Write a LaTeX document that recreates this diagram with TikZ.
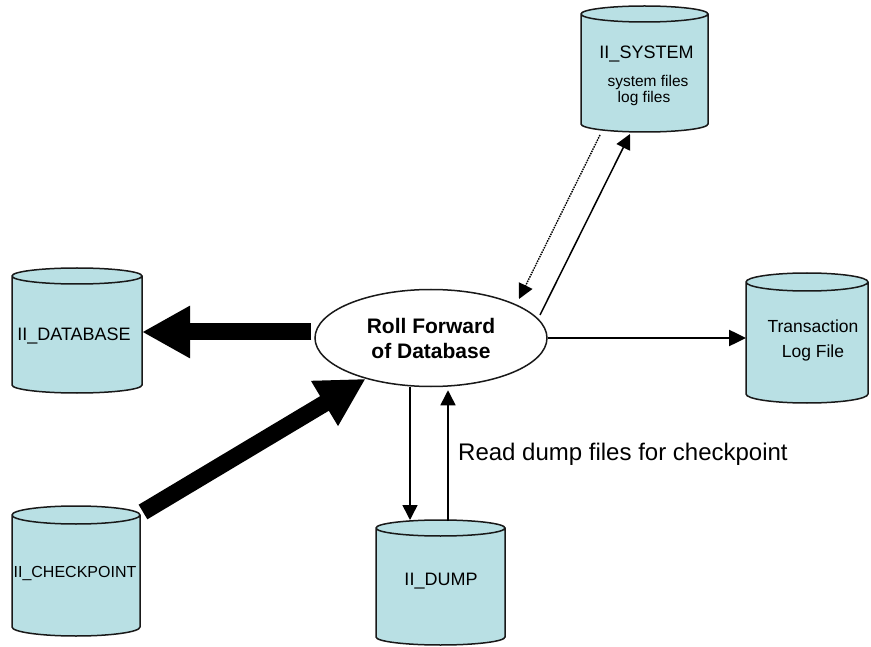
\documentclass[tikz,border=0pt]{standalone}
\usepackage{fontspec}
\setmainfont{Liberation Sans}
\usetikzlibrary{arrows.meta,shapes.geometric,calc}
\definecolor{cylfill}{RGB}{185,224,228}
\definecolor{inkline}{RGB}{25,25,25}
\tikzset{
  cylstyle/.style={draw=inkline, fill=cylfill, line width=1.5pt},
  body/.style={rectangle, inner sep=0pt, outer sep=0pt},
  lab/.style={inner sep=0pt, outer sep=0pt, anchor=base},
  bigarrow/.style={line width=17pt, -{Triangle[length=48pt,width=49pt]}},
  thinarrow/.style={line width=1.5pt, -{Triangle[length=15pt,width=15pt]}},
  transarrow/.style={line width=2.5pt, -{Triangle[length=17pt,width=16pt]}},
  dotarrow/.style={line width=1.4pt, dash pattern=on 1.5pt off 1pt, -{Triangle[length=15pt,width=15pt]}},
  rollnode/.style={ellipse, draw=inkline, line width=1.5pt, fill=white, inner sep=0pt,
    minimum width=232pt, minimum height=97pt, align=center,
    font=\fontsize{21}{25}\selectfont\bfseries}
}
\newcommand\drawcyl[2]{%
  \draw[cylstyle] let \p1=(#1.north west), \p2=(#1.south east), \n1={(\x2-\x1)/2} in
    (\x1,\y1) -- (\x1,\y2) arc[start angle=180,end angle=360,x radius=\n1,y radius=#2]
    -- (\x2,\y1) arc[start angle=0,end angle=180,x radius=\n1,y radius=#2] -- cycle
    (\x1,\y1) arc[start angle=180,end angle=360,x radius=\n1,y radius=#2];
}
\begin{document}
\begin{tikzpicture}[x=1pt,y=-1pt]
\useasboundingbox (0,0) rectangle (871,647);
\fill[white] (0,0) rectangle (871,647);

% cylinder bodies (between the centres of the end ellipses)
\node[body, minimum width=127pt, minimum height=110pt] (sys) at (644.5,69) {};
\node[body, minimum width=122pt, minimum height=112pt] (trans) at (807,338) {};
\node[body, minimum width=130pt, minimum height=109pt] (db) at (77,330.5) {};
\node[body, minimum width=128pt, minimum height=112pt] (cp) at (76,571) {};
\node[body, minimum width=129pt, minimum height=109pt] (dump) at (440.5,582.5) {};

\drawcyl{sys}{8pt}
\drawcyl{trans}{9pt}
\drawcyl{db}{8pt}
\drawcyl{cp}{9pt}
\drawcyl{dump}{8pt}

% cylinder texts
\node[lab, font=\fontsize{18}{20}\selectfont] (sysA) at (646.5,58.5) {II\_SYSTEM};
\node[lab, font=\fontsize{15.5}{17}\selectfont] (sysB) at (648,87) {system files};
\node[lab, font=\fontsize{15.5}{17}\selectfont] (sysC) at (644,103) {log files};
\node[lab, font=\fontsize{17.5}{20}\selectfont] (transA) at (813,333) {Transaction};
\node[lab, font=\fontsize{17.5}{20}\selectfont] (transB) at (813,358) {Log File};
\node[lab, font=\fontsize{18}{20}\selectfont] (dbT) at (74,341) {II\_DATABASE};
\node[lab, font=\fontsize{16}{18}\selectfont] (cpT) at (75,577) {II\_CHECKPOINT};
\node[lab, font=\fontsize{18}{20}\selectfont] (dumpT) at (441,585) {II\_DUMP};

% central process
\node[rollnode] (roll) at (431,338) {Roll Forward\\of Database};

% connectors
\coordinate (s1) at ([xshift=-3pt,yshift=6pt]roll.west);
\draw[bigarrow] (s1) -- (s1 -| db.east);
\draw[bigarrow] ([xshift=3pt,yshift=3pt]cp.north east) -- (roll.212);
\draw[transarrow] (roll.east) -- (trans.west);
\draw[dotarrow] ([xshift=-44.5pt,yshift=-11pt]sys.south) -- ([xshift=88pt,yshift=39pt]roll.center);
\draw[thinarrow] ([xshift=109pt,yshift=23pt]roll.center) -- ([xshift=-14.5pt,yshift=-10pt]sys.south);
\coordinate (dn) at ([xshift=-30.5pt,yshift=8pt]dump.north);
\draw[thinarrow] (dn |- roll.south) -- (dn);
\coordinate (up) at ([xshift=7.5pt,yshift=7pt]dump.north);
\draw[thinarrow, shorten >=3pt] (up) -- (up |- roll.south);

\node[anchor=base west, inner sep=0pt, font=\fontsize{24}{28}\selectfont] (rd) at (458,460) {Read dump files for checkpoint};
\end{tikzpicture}
\end{document}
